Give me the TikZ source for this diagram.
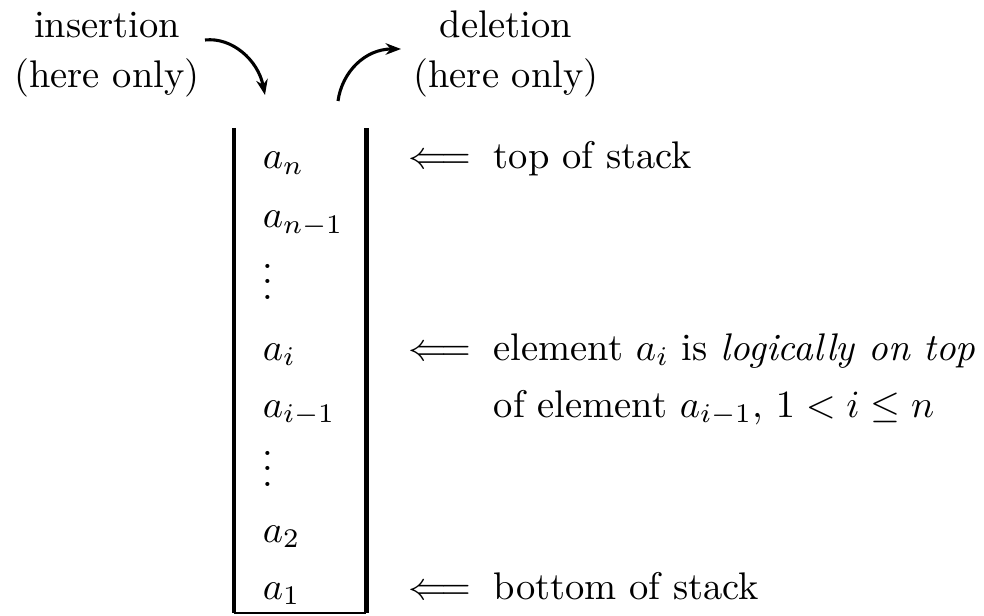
\documentclass[tikz,border=0pt]{standalone}
\usepackage{fontspec}
\usetikzlibrary{arrows.meta}
\begin{document}
\begin{tikzpicture}[x=0.2597pt,y=-0.2597pt,
  lbl/.style={anchor=base west,inner sep=0pt,font=\fontsize{10}{12}\selectfont},
  ctr/.style={anchor=base,inner sep=0pt,font=\fontsize{10}{12}\selectfont},
  thinrule/.style={line width=0.85pt},
  bottomrule/.style={line width=0.7pt},
  thickrule/.style={line width=1.3pt},
  curvearrow/.style={line width=0.8pt,-{Stealth[length=4pt,width=3pt]}}]
\useasboundingbox (0,0) rectangle (984,615);
% top texts
\node[ctr] (ins1) at (107,38) {insertion};
\node[ctr] (ins2) at (107,88) {(here only)};
\node[ctr] (del1) at (506,38) {deletion};
\node[ctr] (del2) at (506,88) {(here only)};
% curved arrows
\coordinate (insS) at (205,40);
\coordinate (insE) at (265,95);
\draw[curvearrow] (insS) .. controls (232,37) and (258,60) .. (insE);
\coordinate (delS) at (338,101);
\coordinate (delE) at (401,49);
\draw[curvearrow] (delS) .. controls (342,72) and (365,49) .. (delE);
% stack walls
\coordinate (sTL) at (234,128);
\coordinate (sBL) at (234,613);
\coordinate (sBR) at (366,613);
\coordinate (sTR) at (366,128);
\draw[thinrule] (sTL) -- (sBL);
\draw[bottomrule] (sBL) -- (sBR);
\draw[thickrule] (sBR) -- (sTR);
% stack entries
\node[lbl] (an)   at (262,169) {$a_n$};
\node[lbl] (an1)  at (262,228) {$a_{n-1}$};
\node[lbl] (vd1)  at (262,299) {$\smash{\vdots}$};
\node[lbl] (ai)   at (262,360) {$a_i$};
\node[lbl] (ai1)  at (262,417) {$a_{i-1}$};
\node[lbl] (vd2)  at (262,486) {$\smash{\vdots}$};
\node[lbl] (a2)   at (262,542) {$a_2$};
\node[lbl] (a1)   at (262,599) {$a_1$};
% right labels
\node[lbl] (arT)  at (408,169) {$\Longleftarrow$};
\node[lbl] (txT)  at (493,169) {top of stack};
\node[lbl] (arM)  at (408,360) {$\Longleftarrow$};
\node[lbl] (txM1) at (493,360) {element $a_i$ is \emph{logically on top}};
\node[lbl] (txM2) at (493,417) {of element $a_{i-1}$, $1<i\le n$};
\node[lbl] (arB)  at (408,599) {$\Longleftarrow$};
\node[lbl] (txB)  at (493,599) {bottom of stack};
\end{tikzpicture}
\end{document}
